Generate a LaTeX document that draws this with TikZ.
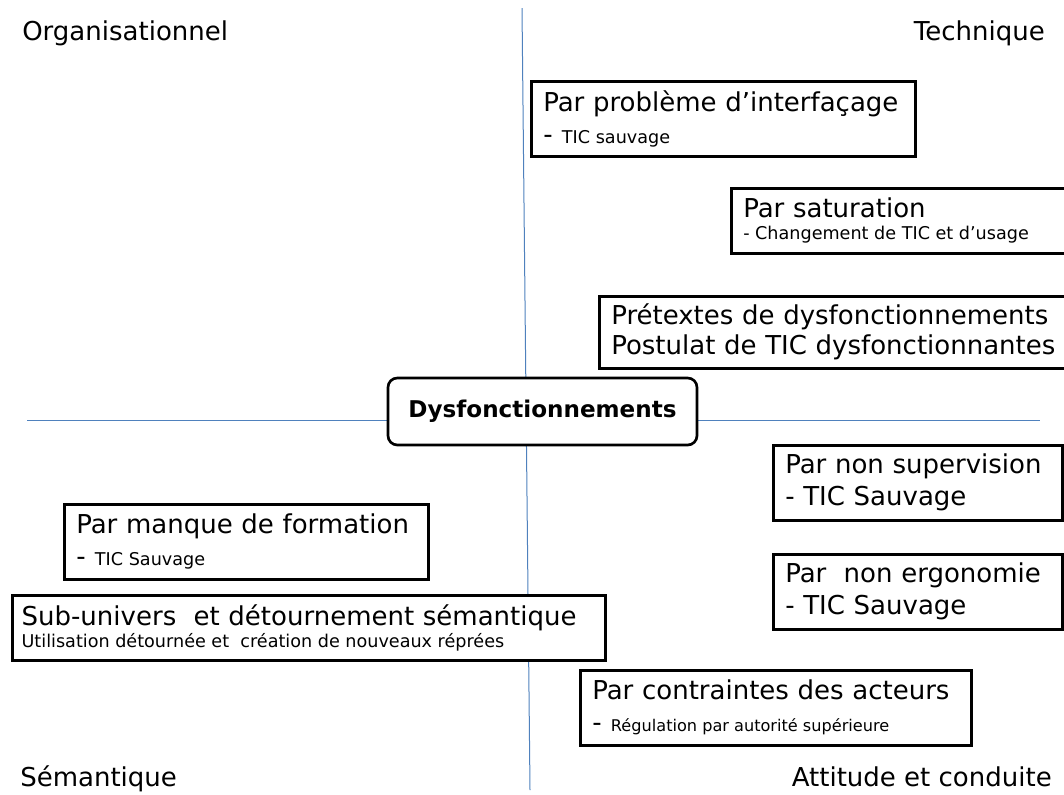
\documentclass[tikz,border=0pt]{standalone}
\usepackage{fontspec}
\setmainfont{DejaVu Sans}
\usepackage{xcolor}
\definecolor{axisblue}{RGB}{79,129,189}
\newcommand{\titre}{\fontsize{19.5}{24}\selectfont}
\newcommand{\petit}{\fontsize{13.2}{16}\selectfont\spaceskip=0pt\xspaceskip=0pt\relax}
\newcommand{\minus}{\fontsize{12.1}{16}\selectfont\spaceskip=0pt\xspaceskip=0pt\relax}
\newcommand{\tiret}{{\titre -}\hspace{7pt}}

\begin{document}
\begin{tikzpicture}[x=0.75pt, y=-0.75pt]
    % Define styles
    \tikzstyle{cadre} = [rectangle, draw, line width=1.9pt, fill=white, anchor=north west, align=left, inner xsep=9pt, inner ysep=0pt, font=\titre]
    \tikzstyle{centre} = [rectangle, draw, line width=2pt, fill=white, rounded corners=7pt, minimum width=231.75pt, minimum height=50.25pt, font=\bfseries\fontsize{17.3}{20}\selectfont]
    \tikzstyle{zone} = [font=\titre, inner sep=0pt]
    \tikzstyle{axe} = [draw=axisblue, line width=0.75pt]

    \clip (0,0) rectangle (1064,794);

    % Axes
    \coordinate (haut) at (522,8);
    \coordinate (bas) at (530,790);
    \coordinate (gauche) at (27,420);
    \coordinate (droite) at (1040,420);
    \draw [axe] (haut) -- (bas);
    \draw [axe] (gauche) -- (droite);

    % Centre
    \node [centre] (dysf) at (542.5,411.5) {Dysfonctionnements};

    % Quadrant labels
    \node [zone, anchor=base west] (orga) at (22,40) {Organisationnel};
    \node [zone, anchor=base east] (tech) at (1045,40) {Technique};
    \node [zone, anchor=base west] (sema) at (20,786) {Sémantique};
    \node [zone, anchor=base east] (atti) at (1052,786) {Attitude et conduite};

    % Technique
    \node [cadre, text width=270pt, minimum height=56.25pt] (interf) at (530,80) {Par problème d’interfaçage\\\tiret{\petit TIC sauvage}};
    \node [cadre, text width=240.75pt, minimum height=48.75pt] (satur) at (730,187) {Par saturation\\[-7.5pt]{\petit - Changement de TIC et d’usage}};
    \node [cadre, text width=339.75pt, minimum height=54pt] (pretx) at (598,295) {Prétextes de dysfonctionnements\\[-1.5pt]Postulat de TIC dysfonctionnantes};

    % Attitude et conduite
    \node [cadre, text width=198.75pt, minimum height=56.25pt] (superv) at (772,444) {Par non supervision\\- TIC Sauvage};
    \node [cadre, text width=198.75pt, minimum height=56.25pt] (ergo) at (772,553) {Par\ \ non ergonomie\\- TIC Sauvage};
    \node [cadre, text width=275.25pt, minimum height=56.25pt] (contr) at (579,669) {Par contraintes des acteurs\\\tiret{\minus Régulation par autorité supérieure}};

    % Semantique / organisationnel
    \node [cadre, text width=255pt, minimum height=56.25pt] (forma) at (63,503) {Par manque de formation\\\tiret{\petit TIC Sauvage}};
    \node [cadre, inner xsep=7pt, text width=430.75pt, minimum height=48.75pt] (subun) at (11,594) {Sub-univers\ \ et détournement sémantique\\[-7.5pt]{\petit Utilisation détournée et\ \ création de nouveaux réprées}};
\end{tikzpicture}
\end{document}
